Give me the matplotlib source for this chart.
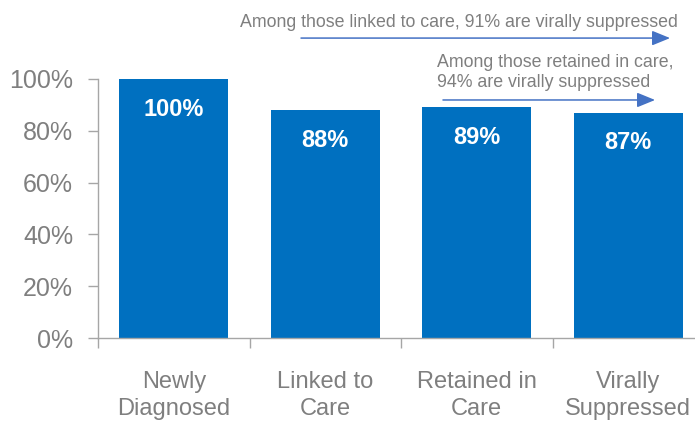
import matplotlib
matplotlib.use("Agg")
import matplotlib.pyplot as plt

categories = ["Newly\nDiagnosed", "Linked to\nCare", "Retained in\nCare", "Virally\nSuppressed"]
values = [100, 88, 89, 87]
bar_labels = ["100%", "88%", "89%", "87%"]
y_ticks = [0, 20, 40, 60, 80, 100]
note_linked = "Among those linked to care, 91% are virally suppressed"
note_retained = "Among those retained in care,\n94% are virally suppressed"

plt.rcParams["font.family"] = ["Liberation Sans", "DejaVu Sans"]

bar_color = "#0070C0"
arrow_color = "#4472C4"
gray = "#7F7F7F"
axis_gray = "#A6A6A6"

fig = plt.figure(figsize=(6.95, 4.24), dpi=100)
ax = fig.add_axes([98 / 695, 86 / 424, 606 / 695, 259 / 424])

x = list(range(len(categories)))
bars = ax.bar(x, values, width=0.72, color=bar_color)

for b, lab in zip(bars, bar_labels):
    ax.annotate(lab, (b.get_x() + b.get_width() / 2, b.get_height()),
                xytext=(0, -30), textcoords="offset pixels",
                ha="center", va="center", color="white",
                fontsize=17, fontweight="bold")

ax.set_xlim(-0.5, len(categories) - 0.5)
ax.set_ylim(0, 100)
ax.set_yticks(y_ticks)
ax.set_yticklabels([f"{t}%" for t in y_ticks])

ax.set_xticks([i - 0.5 for i in range(len(categories) + 1)])
ax.set_xticklabels([])
ax.set_xticks(x, minor=True)
ax.set_xticklabels(categories, minor=True)

ax.tick_params(axis="y", colors=axis_gray, labelcolor=gray, labelsize=18, length=7, width=1, pad=11)
ax.tick_params(axis="x", which="major", colors=axis_gray, length=7, width=1, direction="out")
ax.tick_params(axis="x", which="minor", length=0, labelcolor=gray, labelsize=17, pad=24)
for lab in ax.get_xticklabels(minor=True):
    lab.set_linespacing(1.25)

for s in ["top", "right"]:
    ax.spines[s].set_visible(False)
for s in ["left", "bottom"]:
    ax.spines[s].set_color(axis_gray)
    ax.spines[s].set_linewidth(1)

arrow = dict(arrowstyle="-|>,head_length=1.1,head_width=0.45", color=arrow_color,
             lw=1.1, mutation_scale=10, shrinkA=0, shrinkB=0)
ax.annotate("", xy=(3.276, 115.8), xytext=(0.84, 115.8), arrowprops=arrow, annotation_clip=False)
ax.annotate("", xy=(3.177, 91.9), xytext=(1.777, 91.9), arrowprops=arrow, annotation_clip=False)

ax.text(0.437, 122, note_linked, ha="left", va="center", color=gray, fontsize=12.8, clip_on=False)
ax.text(1.738, 102.5, note_retained, ha="left", va="center", color=gray, fontsize=12.8,
        linespacing=1.25, clip_on=False)

fig.savefig("out.png", dpi=100)
